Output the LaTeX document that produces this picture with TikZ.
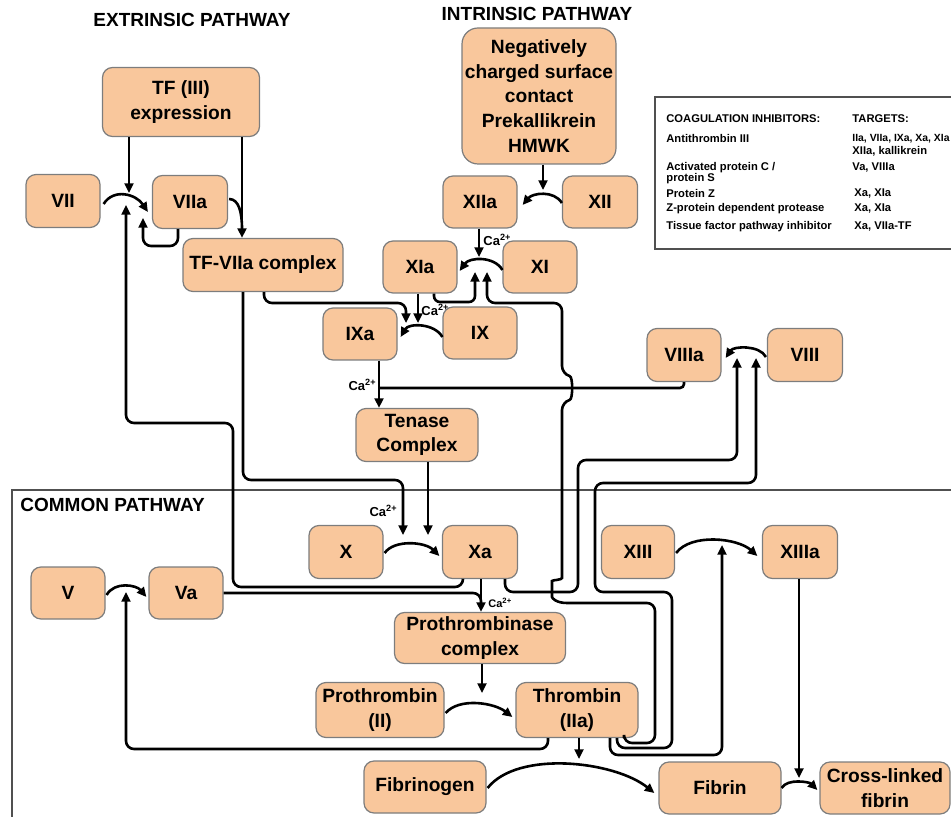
\documentclass[tikz,border=0pt]{standalone}
\usepackage{fontspec}
\setmainfont{Liberation Sans}
\usetikzlibrary{arrows.meta,calc}
\definecolor{peach}{RGB}{249,199,156}
\definecolor{boxgray}{RGB}{125,125,125}
\definecolor{framegray}{RGB}{80,80,80}
\begin{document}
\begin{tikzpicture}[x=0.5pt,y=-0.5pt,
 fbox/.style={draw=boxgray, fill=peach, rounded corners=5pt, line width=0.6pt,
   font=\bfseries\fontsize{9.6}{12.3}\selectfont, align=center, inner sep=0pt, anchor=center},
 sbox/.style={fbox, minimum width=37pt, minimum height=26.5pt},
 conn/.style={line width=1.3pt, rounded corners=4pt, -{Triangle[length=4.8pt,width=4.4pt]}},
 plain/.style={line width=1.3pt, rounded corners=4pt},
 ca/.style={font=\bfseries\fontsize{6.5}{7}\selectfont, inner sep=0pt},
 ttl/.style={font=\bfseries\fontsize{9.5}{11}\selectfont, inner sep=0pt},
 tbl/.style={font=\bfseries\fontsize{5.6}{6}\selectfont, inner sep=0pt, anchor=west, align=left},
 frame/.style={draw=framegray, line width=0.8pt},
]
\useasboundingbox (0,0) rectangle (951,817);
\clip (0,0) rectangle (951,817);

% frames
\draw[frame] (12,490) rectangle (965,830);
\draw[frame] (655,97) rectangle (965,249);

% titles
\node[ttl] (ext) at (192,20) {EXTRINSIC PATHWAY};
\node[ttl] (int) at (537,14) {INTRINSIC PATHWAY};
\node[ttl, anchor=west] (com) at (20,505) {COMMON PATHWAY};

% table
\node[tbl] (h1) at (666,119) {COAGULATION INHIBITORS:};
\node[tbl] (h2) at (852,119) {TARGETS:};
\node[tbl] (r1) at (666,139) {Antithrombin III};
\node[tbl, font=\bfseries\fontsize{5.2}{6}\selectfont] (r1t) at (852,139) {IIa, VIIa, IXa, Xa, XIa};
\node[tbl] (r1u) at (852,151) {XIIa, kallikrein};
\node[tbl] (r2) at (666,168) {Activated protein C /};
\node[tbl] (r2b) at (666,179) {protein S};
\node[tbl] (r2t) at (852,168) {Va, VIIIa};
\node[tbl] (r3) at (666,194) {Protein Z};
\node[tbl] (r3t) at (854,194) {Xa, XIa};
\node[tbl] (r4) at (666,209) {Z-protein dependent protease};
\node[tbl] (r4t) at (854,209) {Xa, XIa};
\node[tbl] (r5) at (666,227) {Tissue factor pathway inhibitor};
\node[tbl] (r5t) at (854,227) {Xa, VIIa-TF};

% boxes
\node[fbox, minimum width=78.5pt, minimum height=34.5pt] (tf) at (181,102) {TF (III)\\expression};
\node[sbox] (vii) at (63,201) {VII};
\node[sbox, minimum width=37.5pt] (viia) at (190,202) {VIIa};
\node[fbox, minimum width=80pt, minimum height=26.5pt] (tfviia) at (263,265) {TF-VIIa complex};
\node[fbox, rounded corners=8pt, minimum width=77pt, minimum height=68pt] (neg) at (539,96) {Negatively\\charged surface\\contact\\Prekallikrein\\HMWK};
\node[sbox, minimum height=26pt] (xiia) at (480,202) {XIIa};
\node[sbox, minimum width=37.5pt, minimum height=26pt] (xii) at (600,202) {XII};
\node[sbox, minimum height=26pt] (xia) at (420,267) {XIa};
\node[sbox, minimum height=26pt] (xi) at (540,267) {XI};
\node[sbox, minimum height=26pt] (ixa) at (360,334) {IXa};
\node[sbox, minimum height=26pt] (ix) at (480,333) {IX};
\node[sbox] (viiia) at (684,355) {VIIIa};
\node[sbox, minimum width=37.5pt] (viii) at (805,355) {VIII};
\node[fbox, minimum width=61pt, minimum height=26.5pt] (tenase) at (417,435) {Tenase\\Complex};
\node[sbox] (x) at (346,552) {X};
\node[sbox, minimum width=37.5pt] (xa) at (480,552) {Xa};
\node[sbox, minimum width=36.5pt] (xiii) at (638,552) {XIII};
\node[sbox, minimum width=37.5pt] (xiiia) at (800,552) {XIIIa};
\node[sbox, minimum height=26pt] (v) at (68,593) {V};
\node[sbox, minimum height=26pt] (va) at (186,593) {Va};
\node[fbox, minimum width=85.5pt, minimum height=25.5pt] (pthase) at (480,638) {Prothrombinase\\complex};
\node[fbox, minimum width=64pt, minimum height=27.5pt] (pthrombin) at (380,710) {Prothrombin\\(II)};
\node[fbox, minimum width=61pt, minimum height=27.5pt] (thrombin) at (577,710) {Thrombin\\(IIa)};
\node[fbox, minimum width=61pt, minimum height=26pt] (fibrinogen) at (425,787) {Fibrinogen};
\node[fbox, minimum width=61pt, minimum height=26pt] (fibrin) at (720,788) {Fibrin};
\node[fbox, minimum width=65pt, minimum height=26pt] (xl) at (885,788) {Cross-linked\\fibrin};

% arrow targets and joins
\coordinate (tA) at (129,193);
\coordinate (tVII) at (126,205);
\coordinate (tVIIb) at (143,218);
\coordinate (jV) at (242,229);
\coordinate (tX) at (403,535);
\coordinate (tIXa1) at (406,323);
\coordinate (tIXa2) at (418,323);
\coordinate (tXIa1) at (479,257);
\coordinate (tXIa2) at (475,272);
\coordinate (tXI) at (487,272);
\coordinate (tXIIa) at (543,190);
\coordinate (tVIII) at (756,358);
\coordinate (tVIIIb) at (737,358);
\coordinate (tXIII) at (722,545);
\coordinate (jIX) at (379,388);
\coordinate (tXb) at (428,535);
\coordinate (jPT) at (481,607);
\coordinate (tV) at (126,592);
\coordinate (tThr) at (482,693);
\coordinate (tFib) at (579,759);
\coordinate (tXL) at (799,778);

% extrinsic
\draw[conn] (tf.south -| tA) -- (tA);
\draw[conn] ([shift={(3,3)}]vii.east) .. controls +(10,-16) and +(-12,-18) .. ([shift={(-4,10)}]viia.west);
\draw[conn] ([shift={(-12,0)}]viia.south) |- (143,246) -- (tVIIb);
\draw[conn] ([shift={(61,0)}]tf.south) -- ([shift={(-21,0)}]tfviia.north);
\draw[plain] ([shift={(1,-3)}]viia.east) .. controls +(10,0) and +(0,-16) .. (jV);
\draw[conn] ([shift={(-17,0)}]xa.south) |- (233,587) |- (126,423) -- (tVII);
\draw[conn] ([shift={(-20,0)}]tfviia.south) |- (403,480) -- (tX);
\draw[conn] ([shift={(1,0)}]tfviia.south) |- (406,303) -- (tIXa1);

% intrinsic
\draw[conn] ([shift={(4,0)}]neg.south) -- (tXIIa);
\draw[conn] ([shift={(0,1)}]xii.west) .. controls +(-8,-13) and +(10,-12) .. ([shift={(5,3)}]xiia.east);
\draw[conn] ([shift={(-1,0)}]xiia.south) -- (tXIa1);
\node[ca, anchor=west] (ca1) at (483,240) {Ca\textsuperscript{2+}};
\draw[conn] ([shift={(0,3)}]xi.west) .. controls +(-8,-14) and +(10,-14) .. ([shift={(2,4)}]xia.east);
\draw[conn, rounded corners=3pt] ([shift={(14,0)}]xia.south) |- (475,302) -- (tXIa2);
\draw[conn] ([shift={(-2,0)}]xia.south) -- (tIXa2);
\node[ca, anchor=west] (ca2) at (421,310) {Ca\textsuperscript{2+}};
\draw[conn] ([shift={(0,4)}]ix.west) .. controls +(-8,-14) and +(8,-14) .. ([shift={(3,3)}]ixa.east);
\draw[conn] ([shift={(19,0)}]ixa.south) -- ([shift={(-38,0)}]tenase.north);
\node[ca, anchor=east] (ca3) at (377,385) {Ca\textsuperscript{2+}};
\draw[plain, rounded corners=2pt] (viiia.south) |- (jIX);
\draw[conn] ([shift={(-1,2)}]viii.west) .. controls +(-6,-12) and +(8,-12) .. ([shift={(4,3)}]viiia.east);

% thrombin -> XI (with hops)
\draw[conn] ([shift={(47,0)}]thrombin.south) |- (655,743) |- (575,603)
  .. controls (556,603) and (552,598) .. (552,589)
  .. controls (552,580) and (562,580) .. (562,570)
  -- (562,402) .. controls (573,399) and (573,377) .. (562,374)
  -- (562,303) -- (487,303) -- (tXI);
% thrombin -> VIII
\draw[conn] ([shift={(40,0)}]thrombin.south) |- (672,748) |- (595,592) |- (756,483) -- (tVIII);
% thrombin -> XIII
\draw[conn] ([shift={(33,0)}]thrombin.south) |- (722,755) -- (tXIII);
% Xa -> VIII
\draw[conn] ([shift={(25,0)}]xa.south) |- (578,592) |- (737,460) -- (tVIIIb);

% common
\draw[conn] ([shift={(11,0)}]tenase.south) -- (tXb);
\node[ca, anchor=east] (ca4) at (398,511) {Ca\textsuperscript{2+}};
\draw[conn] ([shift={(1,1)}]x.east) .. controls +(10,-14) and +(-14,-14) .. ([shift={(-2.5,4)}]xa.west);
\draw[plain] (va.east) -| (jPT);
\draw[conn] ([shift={(1,0)}]xa.south) -- ([shift={(1,0)}]pthase.north);
\node[ca, anchor=west, font=\bfseries\fontsize{5.5}{6}\selectfont] (ca5) at (488,603) {Ca\textsuperscript{2+}};
\draw[conn] ([shift={(1,2)}]v.east) .. controls +(8,-14) and +(-10,-12) .. ([shift={(-2,4)}]va.west);
\draw[conn] ([shift={(-29,0)}]thrombin.south) |- (126,749) -- (tV);
\draw[conn] ([shift={(2,0)}]pthase.south) -- (tThr);
\draw[conn] ([shift={(1,3)}]pthrombin.east) .. controls +(14,-16) and +(-18,-14) .. ([shift={(-3,7)}]thrombin.west);
\draw[conn] ([shift={(2,0)}]thrombin.south) -- (tFib);
\draw[conn] ([shift={(1,1)}]fibrinogen.east) .. controls +(30,-38) and +(-40,-32) .. ([shift={(-4,5)}]fibrin.west);
\draw[conn] ([shift={(1,1)}]xiii.east) .. controls +(15,-20) and +(-20,-18) .. ([shift={(-4.5,4)}]xiiia.west);
\draw[conn] ([shift={(-1,0)}]xiiia.south) -- (tXL);
\draw[conn] (fibrin.east) .. controls +(6,-10) and +(-8,-8) .. ([shift={(-2,2)}]xl.west);
\end{tikzpicture}
\end{document}
